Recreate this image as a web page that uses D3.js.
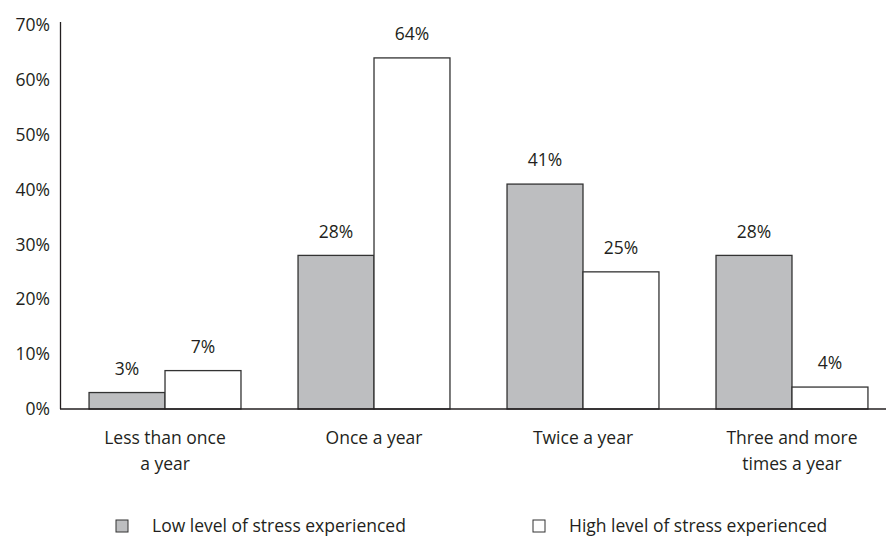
<!DOCTYPE html>
<html>
<head>
<meta charset="utf-8">
<script src="https://cdn.jsdelivr.net/npm/d3@7"></script>
<style>
 body{margin:0;background:#fff;}
 text{font-family:"Open Sans",sans-serif;fill:#231f20;}
</style>
</head>
<body>
<div id="chart"></div>
<script>
// data
var categories = [["Less than once", "a year"], ["Once a year"], ["Twice a year"], ["Three and more", "times a year"]];
var lowStress = [3, 28, 41, 28];
var highStress = [7, 64, 25, 4];
var seriesNames = ["Low level of stress experienced", "High level of stress experienced"];
var yTicks = [0, 10, 20, 30, 40, 50, 60, 70];

var width = 887, height = 538;
var fs = "17.5px";
var svg = d3.select("#chart").append("svg")
    .attr("width", width)
    .attr("height", height);

var y = d3.scaleLinear().domain([0, 70]).range([409, 25]);
var x = d3.scaleBand().domain(d3.range(categories.length))
    .range([60, 897]).paddingInner(0.273).paddingOuter(0.139);
var sub = d3.scaleBand().domain([0, 1]).range([0, x.bandwidth()]);

var fills = ["#bdbec0", "#ffffff"];
var series = [lowStress, highStress];

// y axis labels (no tick marks)
svg.append("g").selectAll("text").data(yTicks).enter().append("text")
    .attr("x", 50)
    .attr("y", function(d) { return y(d); })
    .attr("dy", "0.35em")
    .attr("text-anchor", "end")
    .style("font-size", fs)
    .text(function(d) { return d + "%"; });

// bars
series.forEach(function(vals, s) {
  var g = svg.append("g");
  g.selectAll("rect").data(vals).enter().append("rect")
      .attr("x", function(d, i) { return x(i) + sub(s); })
      .attr("y", function(d) { return y(d); })
      .attr("width", sub.bandwidth())
      .attr("height", function(d) { return y(0) - y(d); })
      .style("fill", fills[s])
      .style("stroke", "#333")
      .style("stroke-width", 1.3);
  g.selectAll("text").data(vals).enter().append("text")
      .attr("x", function(d, i) { return x(i) + sub(s) + sub.bandwidth() / 2; })
      .attr("y", function(d) { return y(d) - 24; })
      .attr("dy", "0.35em")
      .attr("text-anchor", "middle")
      .style("font-size", fs)
      .text(function(d) { return d + "%"; });
});

// axis lines
svg.append("line").attr("x1", 60.5).attr("x2", 60.5).attr("y1", 22).attr("y2", y(0))
    .style("stroke", "#231f20").style("stroke-width", 1.3);
svg.append("line").attr("x1", 60).attr("x2", 886).attr("y1", y(0)).attr("y2", y(0))
    .style("stroke", "#231f20").style("stroke-width", 1.5);

// category labels
var cat = svg.append("g").selectAll("text").data(categories).enter().append("text")
    .attr("x", function(d, i) { return x(i) + x.bandwidth() / 2; })
    .attr("y", 438)
    .attr("text-anchor", "middle")
    .style("font-size", fs);
cat.selectAll("tspan").data(function(d) { return d; }).enter().append("tspan")
    .attr("x", function() { return d3.select(this.parentNode).attr("x"); })
    .attr("dy", function(d, i) { return i ? 26 : 6; })
    .text(function(d) { return d; });

// legend
var legX = [116, 533];
var leg = svg.append("g").selectAll("g").data(seriesNames).enter().append("g")
    .attr("transform", function(d, i) { return "translate(" + legX[i] + ",520)"; });
leg.append("rect").attr("width", 12).attr("height", 12)
    .style("fill", function(d, i) { return fills[i]; })
    .style("stroke", "#333").style("stroke-width", 1);
leg.append("text").attr("x", 36).attr("y", 6).attr("dy", "0.35em")
    .style("font-size", fs)
    .text(function(d) { return d; });
</script>
</body>
</html>
